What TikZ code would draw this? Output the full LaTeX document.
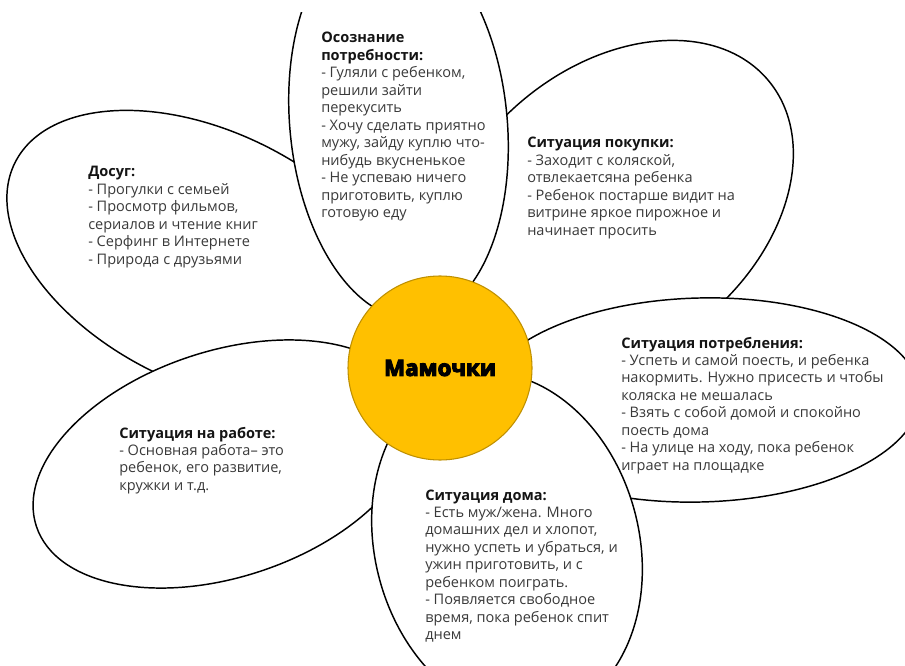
\documentclass[tikz,border=0pt]{standalone}
\usepackage{fontspec}
\setmainfont{Open Sans}
\usetikzlibrary{shapes.geometric}
\definecolor{sun}{HTML}{FFC000}
\definecolor{sunedge}{HTML}{BF9000}
\definecolor{ink}{HTML}{3A3A3A}
\newcommand{\hd}[1]{\textbf{\color{black!92}#1}}
\begin{document}
\begin{tikzpicture}[x=0.75pt,y=-0.75pt,
  petal/.style={ellipse, draw=black, fill=white, line width=1.1pt, inner sep=0pt},
  note/.style={anchor=base west, inner sep=0pt, text=ink,
    font=\fontsize{10.9pt}{13.1pt}\selectfont},
  heart/.style={circle, fill=sun, draw=sunedge, line width=0.8pt, inner sep=0pt,
    minimum size=138pt,
    font=\fontsize{16.8pt}{20pt}\selectfont\bfseries\addfontfeature{FakeBold=5}},
]
\useasboundingbox (0,0) rectangle (905,666);
\begin{scope}
  \clip (0,13) rectangle (905,666);
  % petals, back to front
  \node[petal, minimum width=322.5pt, minimum height=189pt, rotate=-26.2] (leisure) at (207.7,258) {};
  \node[petal, minimum width=300pt, minimum height=213pt, rotate=39.7] (buying) at (614.7,208.5) {};
  \node[petal, minimum width=163pt, minimum height=294pt, rotate=5.5] (need) at (398.5,123.5) {};
  \node[petal, minimum width=298pt, minimum height=169.4pt, rotate=18.3] (work) at (225,464) {};
  \node[petal, minimum width=330pt, minimum height=153pt, rotate=1.5] (eating) at (700,400) {};
  \node[petal, minimum width=198pt, minimum height=262.5pt, rotate=15] (home) at (507,545) {};
\end{scope}

% core of the flower
\node[heart] (moms) at (440,368) {Мамочки};

% petal texts
\node[note] (needtext) at (321,43) {\begin{tabular}[t]{@{}l@{}}
\hd{Осознание}\\
\hd{потребности:}\\
- Гуляли с ребенком,\\
решили зайти\\
перекусить\\
- Хочу сделать приятно\\
мужу, зайду куплю что-\\
нибудь вкусненькое\\
- Не успеваю ничего\\
приготовить, куплю\\
готовую еду
\end{tabular}};

\node[note] (buyingtext) at (527,148) {\begin{tabular}[t]{@{}l@{}}
\hd{Ситуация покупки:}\\
- Заходит с коляской,\\
отвлекаетсяна ребенка\\
- Ребенок постарше видит на\\
витрине яркое пирожное и\\
начинает просить
\end{tabular}};

\node[note] (leisuretext) at (88,177) {\begin{tabular}[t]{@{}l@{}}
\hd{Досуг:}\\
- Прогулки с семьей\\
- Просмотр фильмов,\\
сериалов и чтение книг\\
- Серфинг в Интернете\\
- Природа с друзьями
\end{tabular}};

\node[note] (eatingtext) at (621,348) {\begin{tabular}[t]{@{}l@{}}
\hd{Ситуация потребления:}\\
- Успеть и самой поесть, и ребенка\\
накормить. Нужно присесть и чтобы\\
коляска не мешалась\\
- Взять с собой домой и спокойно\\
поесть дома\\
- На улице на ходу, пока ребенок\\
играет на площадке
\end{tabular}};

\node[note] (worktext) at (119,438) {\begin{tabular}[t]{@{}l@{}}
\hd{Ситуация на работе:}\\
- Основная работа– это\\
ребенок, его развитие,\\
кружки и т.д.
\end{tabular}};

\node[note] (hometext) at (425,500) {\begin{tabular}[t]{@{}l@{}}
\hd{Ситуация дома:}\\
- Есть муж/жена. Много\\
домашних дел и хлопот,\\
нужно успеть и убраться, и\\
ужин приготовить, и с\\
ребенком поиграть.\\
- Появляется свободное\\
время, пока ребенок спит\\
днем
\end{tabular}};
\end{tikzpicture}
\end{document}
